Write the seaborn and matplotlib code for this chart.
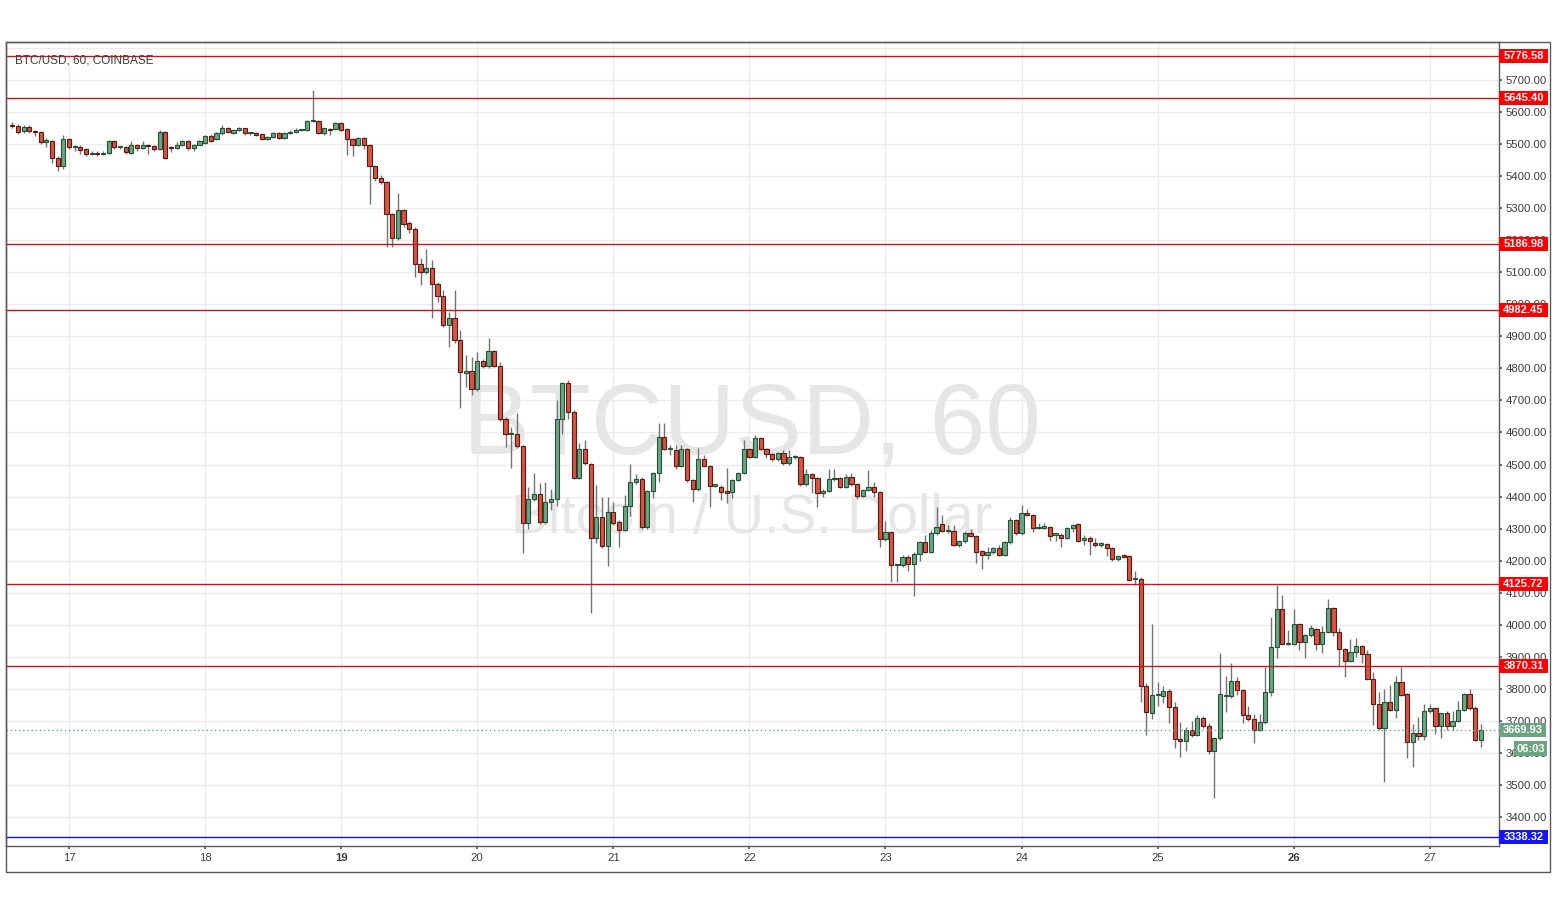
"""
BTC/USD hourly candles (Coinbase) with support / resistance levels
"""

import matplotlib
matplotlib.use("Agg")
import matplotlib.pyplot as plt
import matplotlib.transforms as mtransforms
from matplotlib.patches import Rectangle
import seaborn as sns
import numpy as np
import pandas as pd

# ---- data (hourly candles, 16 Nov 14:00 -> 27 Nov 09:00) ----
start_time = "2018-11-16 14:00"

opens = [
    5560, 5556, 5541, 5553, 5540, 5538, 5508, 5510, 5457, 5432,
    5516, 5491, 5491, 5484, 5468, 5474, 5470, 5474, 5509, 5490,
    5490, 5472, 5499, 5487, 5499, 5494, 5484, 5539, 5489, 5487,
    5499, 5510, 5487, 5499, 5505, 5527, 5515, 5534, 5549, 5535,
    5544, 5549, 5534, 5535, 5531, 5515, 5521, 5534, 5518, 5534,
    5537, 5544, 5544, 5571, 5573, 5536, 5546, 5546, 5565, 5546,
    5515, 5496, 5518, 5499, 5433, 5393, 5381, 5281, 5206, 5294,
    5253, 5234, 5125, 5100, 5114, 5062, 5025, 4935, 4956, 4889,
    4785, 4793, 4736, 4823, 4807, 4853, 4807, 4643, 4595, 4595,
    4558, 4317, 4391, 4409, 4321, 4382, 4391, 4641, 4753, 4665,
    4459, 4548, 4501, 4270, 4335, 4247, 4351, 4321, 4297, 4372,
    4444, 4456, 4305, 4418, 4473, 4585, 4548, 4545, 4496, 4548,
    4451, 4422, 4516, 4496, 4434, 4431, 4414, 4413, 4452, 4473,
    4548, 4523, 4582, 4548, 4532, 4516, 4535, 4504, 4523, 4523,
    4438, 4470, 4457, 4410, 4418, 4454, 4457, 4431, 4460, 4438,
    4401, 4420, 4429, 4413, 4266, 4288, 4186, 4186, 4212, 4189,
    4222, 4259, 4228, 4285, 4313, 4292, 4292, 4250, 4260, 4287,
    4277, 4230, 4218, 4228, 4238, 4219, 4257, 4327, 4285, 4350,
    4342, 4302, 4302, 4305, 4281, 4281, 4272, 4301, 4313, 4265,
    4272, 4256, 4250, 4251, 4238, 4204, 4213, 4213, 4142, 4144,
    3810, 3723, 3780, 3777, 3794, 3742, 3643, 3636, 3670, 3657,
    3709, 3683, 3605, 3645, 3776, 3776, 3825, 3796, 3718, 3705,
    3671, 3695, 3789, 3929, 4048, 3939, 3939, 4001, 3946, 3967,
    3986, 3939, 3977, 4051, 3977, 3924, 3887, 3915, 3932, 3908,
    3830, 3751, 3676, 3757, 3733, 3822, 3783, 3634, 3662, 3652,
    3731, 3739, 3684, 3723, 3684, 3700, 3733, 3783, 3739, 3641,
]

highs = [
    5568, 5562, 5560, 5560, 5544, 5542, 5518, 5514, 5462, 5528,
    5520, 5498, 5497, 5488, 5480, 5478, 5478, 5513, 5512, 5494,
    5494, 5510, 5502, 5510, 5502, 5498, 5545, 5542, 5493, 5506,
    5512, 5514, 5502, 5514, 5530, 5532, 5538, 5560, 5553, 5548,
    5555, 5552, 5538, 5538, 5535, 5525, 5538, 5537, 5537, 5545,
    5550, 5548, 5574, 5669, 5576, 5552, 5550, 5568, 5568, 5549,
    5518, 5522, 5521, 5502, 5436, 5403, 5384, 5284, 5347, 5297,
    5260, 5240, 5144, 5172, 5138, 5070, 5045, 4977, 5045, 4920,
    4842, 4837, 4851, 4828, 4894, 4858, 4820, 4648, 4617, 4660,
    4562, 4430, 4475, 4443, 4446, 4425, 4700, 4758, 4763, 4670,
    4567, 4576, 4505, 4435, 4399, 4399, 4384, 4326, 4406, 4501,
    4470, 4460, 4420, 4476, 4629, 4629, 4560, 4560, 4561, 4552,
    4455, 4551, 4531, 4500, 4437, 4437, 4489, 4456, 4476, 4576,
    4552, 4591, 4586, 4552, 4536, 4540, 4545, 4545, 4530, 4527,
    4486, 4473, 4460, 4422, 4486, 4486, 4461, 4469, 4472, 4442,
    4424, 4482, 4444, 4417, 4324, 4292, 4190, 4216, 4216, 4226,
    4262, 4280, 4297, 4368, 4342, 4310, 4311, 4264, 4291, 4300,
    4281, 4234, 4244, 4242, 4250, 4261, 4337, 4331, 4374, 4360,
    4346, 4318, 4317, 4309, 4286, 4285, 4305, 4314, 4316, 4280,
    4276, 4272, 4258, 4255, 4242, 4216, 4220, 4216, 4168, 4148,
    3818, 4002, 3822, 3808, 3798, 3760, 3696, 3680, 3698, 3718,
    3716, 3694, 3650, 3911, 3840, 3880, 3838, 3800, 3747, 3720,
    3720, 3868, 4024, 4124, 4093, 3983, 4048, 4005, 3972, 3999,
    3990, 3995, 4079, 4055, 3990, 3928, 3955, 3958, 3936, 3921,
    3853, 3790, 3799, 3812, 3840, 3868, 3787, 3689, 3711, 3752,
    3752, 3743, 3725, 3730, 3729, 3763, 3787, 3799, 3745, 3690,
]

lows = [
    5550, 5532, 5534, 5536, 5526, 5500, 5490, 5442, 5416, 5424,
    5486, 5480, 5470, 5462, 5465, 5464, 5466, 5470, 5486, 5486,
    5470, 5468, 5478, 5484, 5470, 5480, 5482, 5455, 5475, 5484,
    5494, 5482, 5478, 5496, 5502, 5508, 5512, 5530, 5535, 5532,
    5541, 5530, 5530, 5524, 5512, 5512, 5518, 5515, 5515, 5531,
    5534, 5541, 5540, 5568, 5533, 5528, 5530, 5543, 5540, 5466,
    5463, 5493, 5486, 5313, 5385, 5375, 5180, 5180, 5200, 5240,
    5222, 5086, 5060, 5095, 4957, 5008, 4930, 4868, 4879, 4676,
    4743, 4717, 4730, 4800, 4800, 4803, 4635, 4556, 4489, 4552,
    4223, 4300, 4385, 4315, 4315, 4357, 4370, 4595, 4641, 4455,
    4455, 4498, 4037, 4254, 4240, 4184, 4312, 4243, 4292, 4340,
    4440, 4300, 4300, 4396, 4446, 4544, 4530, 4486, 4492, 4446,
    4384, 4418, 4492, 4368, 4430, 4390, 4379, 4395, 4448, 4470,
    4519, 4519, 4544, 4520, 4512, 4512, 4500, 4500, 4518, 4434,
    4434, 4410, 4368, 4400, 4414, 4450, 4427, 4427, 4434, 4393,
    4397, 4416, 4400, 4243, 4262, 4134, 4134, 4180, 4166, 4090,
    4200, 4225, 4224, 4280, 4288, 4285, 4245, 4241, 4256, 4274,
    4193, 4174, 4206, 4222, 4215, 4215, 4253, 4280, 4281, 4338,
    4290, 4298, 4298, 4260, 4262, 4243, 4268, 4288, 4258, 4250,
    4217, 4244, 4244, 4214, 4200, 4198, 4209, 4137, 4124, 3757,
    3655, 3705, 3747, 3755, 3694, 3616, 3586, 3606, 3650, 3652,
    3678, 3596, 3459, 3640, 3726, 3770, 3780, 3694, 3700, 3630,
    3667, 3690, 3776, 3897, 3935, 3935, 3935, 3921, 3897, 3963,
    3921, 3913, 3973, 3965, 3871, 3838, 3883, 3900, 3879, 3826,
    3688, 3672, 3510, 3729, 3709, 3776, 3583, 3557, 3640, 3640,
    3725, 3658, 3645, 3670, 3672, 3696, 3729, 3735, 3637, 3618,
]

closes = [
    5556, 5538, 5553, 5541, 5538, 5508, 5510, 5457, 5432, 5516,
    5491, 5494, 5482, 5468, 5474, 5470, 5474, 5509, 5490, 5491,
    5475, 5499, 5487, 5499, 5494, 5484, 5539, 5457, 5488, 5499,
    5510, 5487, 5499, 5510, 5525, 5511, 5534, 5549, 5539, 5544,
    5549, 5534, 5535, 5530, 5515, 5521, 5534, 5518, 5534, 5539,
    5544, 5545, 5571, 5573, 5536, 5549, 5543, 5565, 5543, 5515,
    5496, 5518, 5499, 5433, 5393, 5381, 5281, 5206, 5294, 5251,
    5234, 5125, 5100, 5114, 5062, 5027, 4935, 4956, 4889, 4788,
    4793, 4735, 4823, 4807, 4853, 4807, 4641, 4595, 4596, 4558,
    4317, 4391, 4409, 4321, 4382, 4391, 4641, 4753, 4665, 4459,
    4548, 4504, 4270, 4335, 4247, 4351, 4318, 4297, 4372, 4444,
    4456, 4305, 4418, 4473, 4585, 4548, 4549, 4496, 4548, 4451,
    4422, 4516, 4496, 4434, 4434, 4413, 4412, 4452, 4473, 4548,
    4523, 4582, 4548, 4532, 4516, 4535, 4504, 4523, 4526, 4438,
    4470, 4457, 4410, 4418, 4454, 4455, 4431, 4460, 4438, 4401,
    4420, 4429, 4413, 4266, 4288, 4186, 4187, 4212, 4189, 4222,
    4257, 4228, 4285, 4306, 4292, 4293, 4250, 4260, 4287, 4278,
    4228, 4218, 4228, 4238, 4219, 4257, 4327, 4285, 4348, 4342,
    4302, 4303, 4308, 4277, 4282, 4272, 4301, 4311, 4262, 4272,
    4262, 4248, 4251, 4238, 4204, 4213, 4212, 4140, 4143, 3807,
    3726, 3780, 3781, 3794, 3742, 3643, 3636, 3670, 3657, 3709,
    3683, 3605, 3645, 3782, 3777, 3825, 3796, 3718, 3705, 3671,
    3695, 3789, 3929, 4048, 3939, 3940, 4001, 3946, 3967, 3990,
    3939, 3977, 4051, 3977, 3924, 3887, 3915, 3932, 3908, 3830,
    3751, 3676, 3757, 3733, 3822, 3780, 3634, 3662, 3652, 3731,
    3739, 3684, 3723, 3684, 3700, 3733, 3783, 3739, 3641, 3669.93,
]

day_labels = ["17", "18", "19", "20", "21", "22", "23", "24", "25", "26", "27"]
bold_days = ["19", "26"]  # week starts
red_levels = [5776.58, 5645.40, 5186.98, 4982.45, 4125.72, 3870.31]
blue_level = 3338.32
last_price = 3669.93
countdown = "06:03"
price_ticks = list(range(3400, 5800, 100))
y_range = (3309, 5819)

UP, UP_EDGE = "#6ba583", "#225437"
DOWN, DOWN_EDGE = "#d75442", "#5b1a13"
WICK = "#737375"
FRAME = "#5a5a5a"
TEXT = "#3c3c3c"

sns.set_theme(style="white")
plt.rcParams["font.family"] = ["Liberation Sans", "DejaVu Sans"]

W, H = 1556, 908

df = pd.DataFrame({"open": opens, "high": highs, "low": lows, "close": closes})
df["time"] = pd.date_range(start_time, periods=len(df), freq="h")
df["x"] = np.arange(len(df))
df["up"] = df["close"] >= df["open"]

fig = plt.figure(figsize=(W / 100, H / 100), dpi=100)
fig.patch.set_facecolor("white")
ax = fig.add_axes([6 / W, 1 - 846 / H, (1499 - 6) / W, (846 - 42) / H])

# grid
day_pos = [(pd.Timestamp(f"2018-11-{d}") - df["time"].iloc[0]) / pd.Timedelta(hours=1)
           for d in day_labels]
for p in price_ticks + [5800]:
    ax.axhline(p, color="#ececec", lw=1, zorder=0)
for x in day_pos:
    ax.axvline(x, color="#ececec", lw=1, zorder=0)

# watermark
ax.text(0.4997, 0.5195, "BTCUSD, 60", transform=ax.transAxes, ha="center", va="center",
        fontsize=72, color="#e6e6e6", zorder=0.5)
ax.text(0.4997, 0.407, "Bitcoin / U.S. Dollar", transform=ax.transAxes, ha="center",
        va="center", fontsize=40, color="#e6e6e6", zorder=0.5)

# candles
ax.vlines(df["x"], df["low"], df["high"], color=WICK, lw=1, zorder=2)
body_low = np.minimum(df["open"], df["close"])
body_h = np.maximum((df["close"] - df["open"]).abs(), 4)
ax.bar(df["x"], body_h, bottom=body_low, width=0.74,
       color=np.where(df["up"], UP, DOWN),
       edgecolor=np.where(df["up"], UP_EDGE, DOWN_EDGE),
       linewidth=0.8, zorder=3)

# levels
for lv in red_levels:
    ax.axhline(lv, color="#c8161d", lw=1, zorder=4)
ax.axhline(blue_level, color="#1010e0", lw=1, zorder=4)
ax.axhline(last_price, color=UP, lw=1, ls=(0, (1, 2)), zorder=4)

ax.set_xlim(-1.11, 262.2)
ax.set_ylim(*y_range)

ax.set_xticks(day_pos)
ax.set_xticklabels(day_labels)
for lbl in ax.get_xticklabels():
    if lbl.get_text() in bold_days:
        lbl.set_fontweight("bold")
ax.set_yticks(price_ticks)
ax.set_yticklabels([f"{p:.2f}" for p in price_ticks])
ax.yaxis.tick_right()
ax.tick_params(axis="y", length=2, pad=2.5, labelsize=8.2, colors=FRAME, labelcolor=TEXT)
ax.tick_params(axis="x", length=2, pad=3.3, labelsize=8.2, colors=FRAME, labelcolor=TEXT,
               bottom=True)
for s in ax.spines.values():
    s.set_color(FRAME)
    s.set_linewidth(1)

# price tags on the right axis
tr = mtransforms.blended_transform_factory(ax.transAxes, ax.transData)
px_x = 1 / (1499 - 6)
px_y = (y_range[1] - y_range[0]) / (846 - 42)


def tag(value, label, color, x0=0.0, width=49, height=14):
    ax.add_patch(Rectangle((1 + x0 * px_x, value - height / 2 * px_y), width * px_x,
                           height * px_y, transform=tr, facecolor=color, edgecolor="none",
                           clip_on=False, zorder=10))
    ax.text(1 + (x0 + width / 2) * px_x, value, label, transform=tr, ha="center",
            va="center", fontsize=8, fontweight="bold", color="white", clip_on=False,
            zorder=11)


for lv in red_levels:
    tag(lv, f"{lv:.2f}", "#ff0000")
tag(blue_level, f"{blue_level:.2f}", "#1414ff")
tag(last_price, f"{last_price:.2f}", UP, width=47)
ax.add_patch(Rectangle((1 + 15 * px_x, last_price - 26 * px_y), 33 * px_x, 15 * px_y,
                       transform=tr, facecolor=UP, edgecolor="none", clip_on=False, zorder=10))
ax.text(1 + 31.5 * px_x, last_price - 18.5 * px_y, countdown, transform=tr, ha="center",
        va="center", fontsize=8, fontweight="bold", color="white", clip_on=False, zorder=11)

# outer frame and header
fig.add_artist(Rectangle((6 / W, 1 - 872 / H), (1550 - 6) / W, (872 - 42) / H,
                         transform=fig.transFigure, fill=False, edgecolor=FRAME, lw=1))
fig.text(15 / W, 1 - 60.5 / H, "BTC/USD, 60, COINBASE", fontsize=8.5, color=TEXT,
         ha="left", va="center")

fig.savefig("out.png", dpi=100)
plt.close(fig)
